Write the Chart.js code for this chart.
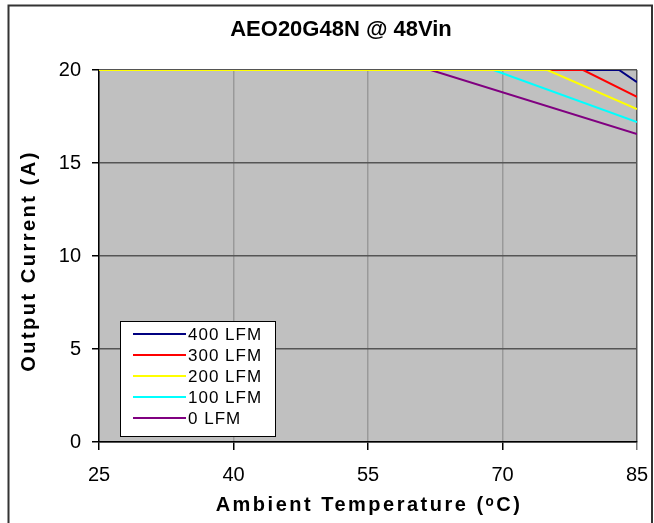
<!DOCTYPE html>
<html>
<head>
<meta charset="utf-8">
<script src="https://cdn.jsdelivr.net/npm/chart.js@4"></script>
<style>
    html, body { margin: 0; padding: 0; background: #fff; }
    #wrap { width: 654px; height: 523px; position: relative; }
</style>
</head>
<body>
<div id="wrap"><canvas id="deratingChart" width="654" height="523"></canvas></div>
<script>
var chartTitle = 'AEO20G48N @ 48Vin';
var xTitle = 'Ambient Temperature (\u1D52C)';
var yTitle = 'Output Current (A)';
var xTicks = [25, 40, 55, 70, 85];
var yTicks = [0, 5, 10, 15, 20];

var labels = ['400 LFM', '300 LFM', '200 LFM', '100 LFM', '0 LFM'];
var colors = ['#000080', '#FF0000', '#FFFF00', '#00FFFF', '#800080'];

// ambient temperature (C) / output current (A) break points per airflow
var temp400 = [25, 83, 85];
var amps400 = [20, 20, 19.35];
var temp300 = [25, 79, 85];
var amps300 = [20, 20, 18.55];
var temp200 = [25, 75, 85];
var amps200 = [20, 20, 17.9];
var temp100 = [25, 69, 85];
var amps100 = [20, 20, 17.2];
var temp0 = [25, 62, 85];
var amps0 = [20, 20, 16.55];

var temps = [temp400, temp300, temp200, temp100, temp0];
var amps = [amps400, amps300, amps200, amps100, amps0];
// yellow ends up on top of the flat 20 A part, like the original
var drawOrder = [2, 1, 0, 3, 4];

var fontFamily = 'Arial, "Liberation Sans", sans-serif';

function points(xs, ys) {
    var out = [];
    for (var i = 0; i < xs.length; i++) {
        out.push({ x: xs[i], y: ys[i] });
    }
    return out;
}

var datasets = [];
for (var i = 0; i < labels.length; i++) {
    datasets.push({
        label: labels[i],
        data: points(temps[i], amps[i]),
        borderColor: colors[i],
        backgroundColor: colors[i],
        borderWidth: 2,
        pointRadius: 0,
        lineTension: 0,
        order: drawOrder[i]
    });
}

// white page, outer frame, grey plot background, titles and legend
var framePlugin = {
    id: 'frame',
    beforeDraw: function(chart) {
        var ctx = chart.ctx;
        var a = chart.chartArea;
        ctx.save();
        ctx.fillStyle = '#fff';
        ctx.fillRect(0, 0, chart.width, chart.height);
        ctx.strokeStyle = '#333';
        ctx.lineWidth = 2;
        ctx.beginPath();
        ctx.moveTo(8.5, chart.height + 5);
        ctx.lineTo(8.5, 5.5);
        ctx.lineTo(652, 5.5);
        ctx.lineTo(652, chart.height + 5);
        ctx.stroke();
        ctx.fillStyle = '#C0C0C0';
        ctx.fillRect(a.left, a.top, a.right - a.left, a.bottom - a.top);
        ctx.restore();
    },
    afterDraw: function(chart) {
        var ctx = chart.ctx;
        var a = chart.chartArea;
        ctx.save();
        ctx.fillStyle = '#000';
        ctx.textAlign = 'center';
        ctx.textBaseline = 'middle';
        ctx.font = 'bold 22px ' + fontFamily;
        ctx.fillText(chartTitle, 341, 30);

        // axis titles, spread out like the old excel text
        ctx.font = 'bold 20px ' + fontFamily;
        ctx.letterSpacing = '2.5px';
        ctx.fillText(xTitle, (a.left + a.right) / 2 + 1, 505);
        ctx.save();
        ctx.translate(29, (a.top + a.bottom) / 2 + 5);
        ctx.rotate(-Math.PI / 2);
        ctx.fillText(yTitle, 0, 0);
        ctx.restore();

        // legend box inside the plot
        var bx = 120, by = 321, bw = 155, bh = 115;
        ctx.fillStyle = '#fff';
        ctx.fillRect(bx, by, bw, bh);
        ctx.strokeStyle = '#000';
        ctx.lineWidth = 1;
        ctx.strokeRect(bx + 0.5, by + 0.5, bw, bh);
        ctx.font = '17px ' + fontFamily;
        ctx.letterSpacing = '1px';
        ctx.textAlign = 'left';
        var ds = chart.data.datasets;
        for (var i = 0; i < ds.length; i++) {
            var yy = by + 13 + i * 21;
            ctx.strokeStyle = ds[i].borderColor;
            ctx.lineWidth = 2;
            ctx.beginPath();
            ctx.moveTo(133, yy);
            ctx.lineTo(186, yy);
            ctx.stroke();
            ctx.fillStyle = '#000';
            ctx.fillText(ds[i].label, 188, yy + 1);
        }
        ctx.restore();
    }
};

var el = document.getElementById('deratingChart').getContext('2d');
var deratingChart = new Chart(el, {
    type: 'line',
    data: { datasets: datasets },
    options: {
        responsive: false,
        animation: false,
        layout: { padding: { top: 70, left: 10, right: 17, bottom: 0 } },
        plugins: {
            legend: { display: false },
            title: { display: false },
            tooltip: { enabled: false }
        },
        scales: {
            x: {
                type: 'linear',
                min: xTicks[0],
                max: xTicks[xTicks.length - 1],
                afterBuildTicks: function(scale) {
                    scale.ticks = xTicks.map(function(v) { return { value: v }; });
                },
                afterFit: function(scale) {
                    scale.height = 81;
                    // the "85" label fits in the right margin already
                    scale.paddingRight = 10;
                    scale.paddingLeft = 10;
                },
                grid: {
                    color: function(c) { return c.tick && c.tick.value === 85 ? '#555' : '#999'; },
                    tickColor: function(c) { return c.tick && c.tick.value === 85 ? '#777' : '#000'; },
                    tickLength: 8,
                    lineWidth: 1.5
                },
                border: { color: '#000', width: 1.5 },
                ticks: {
                    color: '#000',
                    padding: 13,
                    maxRotation: 0,
                    font: { family: fontFamily, size: 20 }
                }
            },
            y: {
                min: yTicks[0],
                max: yTicks[yTicks.length - 1],
                afterBuildTicks: function(scale) {
                    scale.ticks = yTicks.map(function(v) { return { value: v }; });
                },
                afterFit: function(scale) { scale.width = 89; },
                grid: {
                    color: '#555',
                    tickColor: '#000',
                    tickLength: 7,
                    lineWidth: 1.5
                },
                border: { color: '#000', width: 1.5 },
                ticks: {
                    color: '#000',
                    padding: 11,
                    font: { family: fontFamily, size: 20 }
                }
            }
        }
    },
    plugins: [framePlugin]
});
</script>
</body>
</html>
